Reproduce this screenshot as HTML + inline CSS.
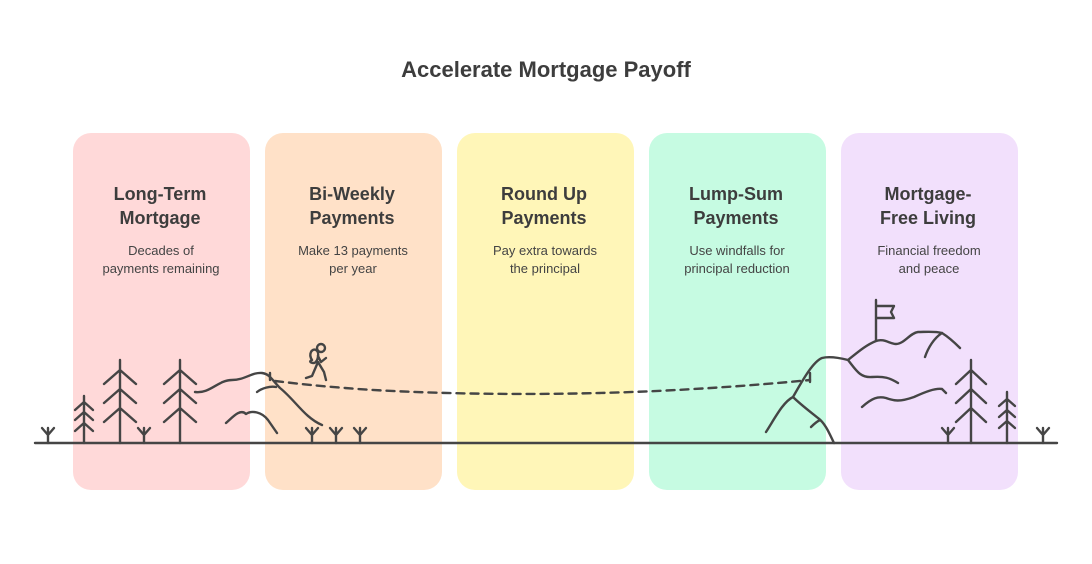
<!DOCTYPE html>
<html><head><meta charset="utf-8"><style>
body{margin:0;background:#fff;}
svg{display:block;font-family:"Liberation Sans",sans-serif;}
.h{font-size:18px;font-weight:bold;fill:#3d3d3d;text-anchor:middle;}
.d{font-size:13px;fill:#444;text-anchor:middle;}
.l{fill:none;stroke:#454545;stroke-width:2.4;stroke-linecap:round;stroke-linejoin:round;}
</style></head><body>
<svg width="1092" height="564" viewBox="0 0 1092 564">
<text x="546" y="77" text-anchor="middle" font-size="22" font-weight="bold" fill="#3d3d3d">Accelerate Mortgage Payoff</text>
<rect x="73" y="133" width="177" height="357" rx="18" fill="#FFD9D9"/>
<rect x="265" y="133" width="177" height="357" rx="18" fill="#FFE1C8"/>
<rect x="457" y="133" width="177" height="357" rx="18" fill="#FFF6B8"/>
<rect x="649" y="133" width="177" height="357" rx="18" fill="#C6FBE2"/>
<rect x="841" y="133" width="177" height="357" rx="18" fill="#F2E0FC"/>
<text class="h" x="160" y="200">Long-Term</text><text class="h" x="160" y="224">Mortgage</text>
<text class="d" x="161" y="255">Decades of</text><text class="d" x="161" y="273">payments remaining</text>
<text class="h" x="352" y="200">Bi-Weekly</text><text class="h" x="352" y="224">Payments</text>
<text class="d" x="353" y="255">Make 13 payments</text><text class="d" x="353" y="273">per year</text>
<text class="h" x="544" y="200">Round Up</text><text class="h" x="544" y="224">Payments</text>
<text class="d" x="545" y="255">Pay extra towards</text><text class="d" x="545" y="273">the principal</text>
<text class="h" x="736" y="200">Lump-Sum</text><text class="h" x="736" y="224">Payments</text>
<text class="d" x="737" y="255">Use windfalls for</text><text class="d" x="737" y="273">principal reduction</text>
<text class="h" x="928" y="200">Mortgage-</text><text class="h" x="928" y="224">Free Living</text>
<text class="d" x="929" y="255">Financial freedom</text><text class="d" x="929" y="273">and peace</text>
<g class="l">
<path d="M35 443H1057"/>
<path d="M48 443V428M42 428l6 7 6-7"/>
<path d="M144 443V428M138 428l6 7 6-7"/>
<path d="M312 443V428M306 428l6 7 6-7"/>
<path d="M336 443V428M330 428l6 7 6-7"/>
<path d="M360 443V428M354 428l6 7 6-7"/>
<path d="M948 443V428M942 428l6 7 6-7"/>
<path d="M1043 443V428M1037 428l6 7 6-7"/>
<path d="M84 443V396M75 410l9-8 9 8M75 420l9-8 9 8M75 431l9-8 9 8"/>
<path d="M120 443V360M104 384l16-14 16 14M104 403l16-14 16 14M104 422l16-14 16 14"/>
<path d="M180 443V360M164 384l16-14 16 14M164 403l16-14 16 14M164 422l16-14 16 14"/>
<path d="M971 443V360M956 384l15-14 15 14M956 403l15-14 15 14M956 422l15-14 15 14"/>
<path d="M1007 443V392M999 406l8-7 8 7M999 417l8-7 8 7M999 428l8-7 8 7"/>
<path d="M195 392C210 394 218 380 232 380C245 380 252 372 262 373C270 374 272 380 280 388C295 400 305 418 322 425"/>
<path d="M257 392C262 388 270 386 276 387"/>
<path d="M226 423C232 418 240 408 246 414C252 410 262 412 268 420L277 433"/>
<path d="M270 373V380"/>
<path d="M275 381C300 384 320 386 345 388C420 394 520 395 600 393C680 391 760 385 810 380" stroke-dasharray="8 6"/>
<path d="M810 373V382"/>
<path d="M766 432C775 418 783 402 793 397C800 385 812 362 822 358C830 356 840 358 848 360C858 352 866 345 876 341C884 338 890 344 896 344C904 344 910 333 918 332C925 332 935 331 942 333C950 338 955 343 960 348"/>
<path d="M925 357C928 348 934 338 942 333"/>
<path d="M848 360C856 370 860 378 872 377C884 376 890 378 898 383"/>
<path d="M862 407C872 398 878 396 886 398C894 401 900 402 914 397C925 392 935 388 942 389L946 393"/>
<path d="M793 397C800 404 808 410 818 418C826 424 830 435 834 443"/>
<path d="M811 427C814 424 818 421 820 420"/>
<path d="M876 341V300M876 306H894L891 312L894 318H876"/>
<circle cx="321" cy="348" r="4"/>
<path d="M312 360C308 354 312 348 316 350C320 352 318 362 314 363C310 363 309 361 312 360Z"/>
<path d="M318 356L321 362L326 358M318 362L312 376L306 378M318 362L324 372L326 380"/>
</g>
</svg>
</body></html>
